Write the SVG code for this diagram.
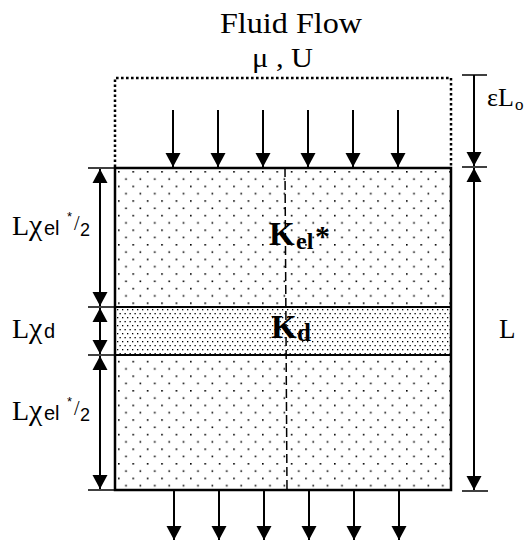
<svg xmlns="http://www.w3.org/2000/svg" width="525" height="546" viewBox="0 0 525 546">
<defs>
<pattern id="sparse" patternUnits="userSpaceOnUse" x="118" y="171" width="14.4" height="14.6">
<rect x="0" y="0" width="1.6" height="1.6" fill="#000"/>
<rect x="7.2" y="7.3" width="1.6" height="1.6" fill="#000"/>
</pattern>
<pattern id="dense" patternUnits="userSpaceOnUse" x="117" y="309" width="5" height="8">
<rect x="0" y="0" width="1.3" height="1.3" fill="#000"/>
<rect x="2.5" y="4" width="1.3" height="1.3" fill="#000"/>
</pattern>
<marker id="ah" markerUnits="userSpaceOnUse" markerWidth="16" markerHeight="16" viewBox="0 0 16 16" refX="14" refY="8" orient="auto-start-reverse">
<path d="M0,0.5 L14,8 L0,15.5 Z" fill="#000"/>
</marker>
<style>
.ln{stroke:#000;stroke-width:2;fill:none}
.ar{stroke:#000;stroke-width:2;fill:none;marker-end:url(#ah)}
.ar2{stroke:#000;stroke-width:2;fill:none;marker-end:url(#ah);marker-start:url(#ah)}
.tk{stroke:#000;stroke-width:1.5}
.serif{font-family:"Liberation Serif","Times New Roman",serif;fill:#000}
.sans{font-family:"Liberation Sans",Arial,sans-serif;fill:#000}
</style>
</defs>

<g id="title">
<text class="serif" x="220" y="33" font-size="30" textLength="142" lengthAdjust="spacingAndGlyphs">Fluid Flow</text>
<text class="serif" x="252" y="67" font-size="28" textLength="61" lengthAdjust="spacingAndGlyphs">μ , U</text>
</g>

<g id="inlet-region">
<polyline points="115,167 115,78 451,78 451,167" fill="none" stroke="#000" stroke-width="2.5" stroke-dasharray="2.6 2.4"/>
</g>

<g id="upper-layer">
<rect x="115" y="168" width="336" height="139" fill="url(#sparse)"/>
</g>
<g id="middle-layer">
<rect x="115" y="307" width="336" height="48" fill="url(#dense)"/>
</g>
<g id="lower-layer">
<rect x="115" y="355" width="336" height="135" fill="url(#sparse)"/>
</g>
<g id="sample">
<rect x="115" y="168" width="336" height="322" fill="none" stroke="#000" stroke-width="2.5"/>
<line x1="115" y1="307" x2="451" y2="307" class="ln"/>
<line x1="115" y1="355" x2="451" y2="355" class="ln"/>
<line x1="285" y1="168" x2="287" y2="490" stroke="#000" stroke-width="1.5" stroke-dasharray="9 4"/>
</g>

<g id="labels">
<text class="serif" font-weight="bold"><tspan x="269" y="245" font-size="33">K</tspan><tspan x="296" y="249" font-size="24">el</tspan><tspan x="315" y="246" font-size="30">*</tspan></text>
<text class="serif" font-weight="bold"><tspan x="271" y="338" font-size="33">K</tspan><tspan x="297" y="341" font-size="25">d</tspan></text>
<text class="serif" x="499" y="338" font-size="27">L</text>
<text class="serif" font-size="26"><tspan x="487" y="106">εL</tspan><tspan x="515" y="110" font-size="17">o</tspan></text>

<text class="serif"><tspan x="12" y="235" font-size="28">L</tspan><tspan x="29" y="235" font-size="30">χ</tspan><tspan class="sans" x="44" y="235" font-size="20">el</tspan><tspan class="sans" x="67" y="221" font-size="13">*</tspan><tspan x="74" y="230" font-size="20">/</tspan><tspan class="sans" x="80" y="236" font-size="18">2</tspan></text>
<text class="serif"><tspan x="12" y="338" font-size="28">L</tspan><tspan x="29" y="338" font-size="30">χ</tspan><tspan class="sans" x="44" y="338" font-size="20">d</tspan></text>
<text class="serif"><tspan x="12" y="420" font-size="28">L</tspan><tspan x="29" y="420" font-size="30">χ</tspan><tspan class="sans" x="44" y="420" font-size="20">el</tspan><tspan class="sans" x="67" y="406" font-size="13">*</tspan><tspan x="74" y="415" font-size="20">/</tspan><tspan class="sans" x="80" y="421" font-size="18">2</tspan></text>
</g>

<g id="connectors">
<line class="ar" x1="173" y1="110" x2="173" y2="167"/>
<line class="ar" x1="218" y1="110" x2="218" y2="167"/>
<line class="ar" x1="263" y1="110" x2="263" y2="167"/>
<line class="ar" x1="308" y1="110" x2="308" y2="167"/>
<line class="ar" x1="353" y1="110" x2="353" y2="167"/>
<line class="ar" x1="398" y1="110" x2="398" y2="167"/>

<line class="ar" x1="174" y1="491" x2="174" y2="540"/>
<line class="ar" x1="219" y1="491" x2="219" y2="540"/>
<line class="ar" x1="264" y1="491" x2="264" y2="540"/>
<line class="ar" x1="309" y1="491" x2="309" y2="540"/>
<line class="ar" x1="354" y1="491" x2="354" y2="540"/>
<line class="ar" x1="399" y1="491" x2="399" y2="540"/>

<line class="tk" x1="88" y1="168" x2="115" y2="168"/>
<line class="tk" x1="88" y1="307" x2="115" y2="307"/>
<line class="tk" x1="88" y1="355" x2="115" y2="355"/>
<line class="tk" x1="88" y1="490" x2="115" y2="490"/>
<line class="ar2" x1="100" y1="169" x2="100" y2="306"/>
<line class="ar2" x1="100" y1="308" x2="100" y2="354"/>
<line class="ar2" x1="100" y1="356" x2="100" y2="489"/>

<line class="tk" x1="462" y1="75" x2="487" y2="75"/>
<line class="tk" x1="462" y1="167" x2="487" y2="167"/>
<line class="tk" x1="462" y1="491" x2="488" y2="491"/>
<line class="ar" x1="474" y1="75" x2="474" y2="166"/>
<line class="ar2" x1="474" y1="168" x2="474" y2="490"/>
</g>
</svg>
